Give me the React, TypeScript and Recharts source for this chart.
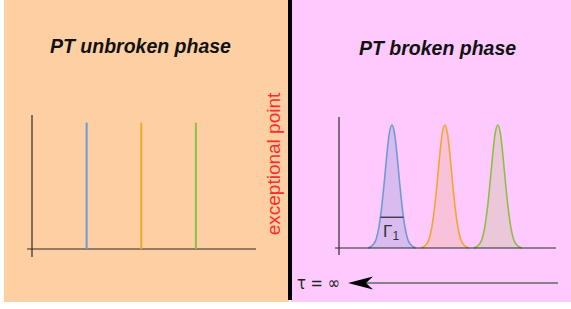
import { LineChart, Line, AreaChart, Area, XAxis, YAxis, ReferenceLine } from 'recharts';

// left panel: sharp spectral lines (unbroken phase)
const SPIKE_POSITIONS = [1, 2, 3];
const SPIKE_HEIGHTS = [1, 1, 1];

// right panel: broadened peaks (broken phase)
const PEAK_CENTERS = [1, 2, 3];
const PEAK_OFFSETS = [-0.45, -0.4, -0.35, -0.3, -0.25, -0.2, -0.15, -0.1, -0.05, 0, 0.05, 0.1, 0.15, 0.2, 0.25, 0.3, 0.35, 0.4, 0.45];
const BLUE_PROFILE = [0, 0.01, 0.03, 0.07, 0.16, 0.31, 0.51, 0.74, 0.93, 1, 0.93, 0.74, 0.51, 0.31, 0.16, 0.07, 0.03, 0.01, 0];
const ORANGE_PROFILE = [0, 0.01, 0.03, 0.07, 0.16, 0.31, 0.51, 0.74, 0.93, 1, 0.93, 0.74, 0.51, 0.31, 0.16, 0.07, 0.03, 0.01, 0];
const GREEN_PROFILE = [0, 0.01, 0.03, 0.07, 0.16, 0.31, 0.51, 0.74, 0.93, 1, 0.93, 0.74, 0.51, 0.31, 0.16, 0.07, 0.03, 0.01, 0];
const GAMMA_LEVEL = 0.25;
const GAMMA_HALF_WIDTH = 0.217;

const KEYS = ['blue', 'orange', 'green'];
const STROKES: Record<string, string> = { blue: '#6f9bd3', orange: '#f0a733', green: '#8dbf45' };
const FILLS: Record<string, string> = { blue: '#dabbef', orange: '#f8c3da', green: '#eac8da' };
const AXIS = '#2a2a2a';

const leftData = SPIKE_POSITIONS.flatMap((x, i) => [
  { x, [KEYS[i]]: 0 },
  { x, [KEYS[i]]: SPIKE_HEIGHTS[i] },
]);

const profiles = [BLUE_PROFILE, ORANGE_PROFILE, GREEN_PROFILE];
const rightData = PEAK_CENTERS.flatMap((c, i) =>
  PEAK_OFFSETS.map((o, j) => ({ x: +(c + o).toFixed(3), [KEYS[i]]: profiles[i][j] }))
);

const titleStyle: React.CSSProperties = {
  position: 'absolute',
  fontFamily: '"Liberation Sans", Arial, sans-serif',
  fontWeight: 'bold',
  fontStyle: 'italic',
  fontSize: 19.5,
  color: '#111',
  whiteSpace: 'nowrap',
  lineHeight: 1,
};

export default function App() {
  return (
    <div style={{ position: 'absolute', left: 0, top: 0, width: 571, height: 309, background: '#fff', overflow: 'hidden' }}>
      <div style={{ position: 'absolute', left: 4, top: 0, width: 285, height: 302, background: '#fdcfa3' }} />
      <div style={{ position: 'absolute', left: 291, top: 0, width: 280, height: 302, background: '#fecafd' }} />
      <div style={{ position: 'absolute', left: 288, top: 0, width: 4, height: 300, background: '#000' }} />

      <div style={{ ...titleStyle, left: 50, top: 37 }}>PT unbroken phase</div>
      <div style={{ ...titleStyle, left: 359, top: 39 }}>PT broken phase</div>

      <div style={{ position: 'absolute', left: 0, top: 0 }}>
        <LineChart width={290} height={309} data={leftData} margin={{ top: 115, right: 34, bottom: 60, left: 32 }}>
          <XAxis dataKey="x" type="number" domain={[0, 4.1]} hide />
          <YAxis type="number" domain={[0, 1.06]} hide />
          <ReferenceLine segment={[{ x: -0.09, y: 0 }, { x: 4.1, y: 0 }]} stroke={AXIS} strokeWidth={1.2} ifOverflow="visible" />
          <ReferenceLine segment={[{ x: 0, y: -0.063 }, { x: 0, y: 1.06 }]} stroke={AXIS} strokeWidth={1.2} ifOverflow="visible" />
          {KEYS.map((k) => (
            <Line key={k} dataKey={k} type="linear" stroke={STROKES[k]} strokeWidth={2} dot={false} activeDot={false} isAnimationActive={false} />
          ))}
        </LineChart>
      </div>

      <div style={{ position: 'absolute', left: 292, top: 0 }}>
        <AreaChart width={279} height={309} data={rightData} margin={{ top: 117, right: 15, bottom: 61, left: 47 }}>
          <XAxis dataKey="x" type="number" domain={[0, 4.1]} hide />
          <YAxis type="number" domain={[0, 1.065]} hide />
          {KEYS.map((k) => (
            <Area key={k} dataKey={k} type="monotone" stroke={STROKES[k]} strokeWidth={1.6} fill={FILLS[k]} fillOpacity={1} dot={false} activeDot={false} isAnimationActive={false} />
          ))}
          <ReferenceLine segment={[{ x: -0.076, y: 0 }, { x: 4.1, y: 0 }]} stroke={AXIS} strokeWidth={1.2} ifOverflow="visible" />
          <ReferenceLine segment={[{ x: 0, y: -0.057 }, { x: 0, y: 1.065 }]} stroke={AXIS} strokeWidth={1.2} ifOverflow="visible" />
          <ReferenceLine
            segment={[{ x: PEAK_CENTERS[0] - GAMMA_HALF_WIDTH, y: GAMMA_LEVEL }, { x: PEAK_CENTERS[0] + GAMMA_HALF_WIDTH, y: GAMMA_LEVEL }]}
            stroke="#333" strokeWidth={1.3} ifOverflow="visible"
          />
        </AreaChart>
      </div>

      <svg width={571} height={309} style={{ position: 'absolute', left: 0, top: 0 }}>
        <text x={383} y={237} fontFamily='"Liberation Sans", Arial, sans-serif' fontSize={17} fill="#333">
          Γ<tspan fontSize={12} dy={3}>1</tspan>
        </text>
        <text
          transform="translate(280, 164) rotate(-90)"
          textAnchor="middle"
          fontFamily='"Liberation Sans", Arial, sans-serif'
          fontSize={19}
          fill="#ff2a2a"
        >
          exceptional point
        </text>
        <text x={297} y={289} fontFamily='"DejaVu Sans", sans-serif' fontSize={18} fill="#222" textLength={43} lengthAdjust="spacingAndGlyphs">τ = ∞</text>
        <line x1={366} y1={283} x2={558} y2={283} stroke="#666" strokeWidth={1.5} />
        <polygon points="348,283 373,276.5 366,283 373,289.5" fill="#000" />
      </svg>
    </div>
  );
}
